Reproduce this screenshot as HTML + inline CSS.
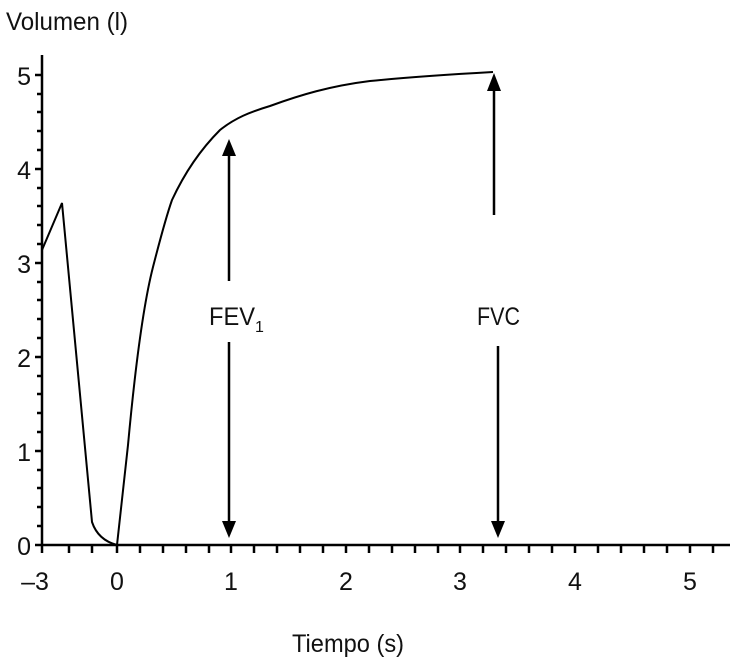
<!DOCTYPE html>
<html><head><meta charset="utf-8"><style>body{margin:0;background:#fff}svg{display:block}text{font-family:"Liberation Sans Narrow","Liberation Sans",sans-serif;font-size:25px;fill:#111}</style></head><body>
<svg width="730" height="661" viewBox="0 0 730 661">
<g stroke="#000" stroke-width="2.5" fill="none">
<line x1="42" y1="55" x2="42" y2="546"/>
<line x1="41" y1="545" x2="730" y2="545"/>
<path d="M35 545H42M35 451H42M35 357H42M35 263H42M35 169H42M35 75H42"/>
<path d="M37 526H42M37 507H42M37 488H42M37 470H42M37 432H42M37 413H42M37 394H42M37 376H42M37 338H42M37 319H42M37 300H42M37 282H42M37 244H42M37 225H42M37 206H42M37 188H42M37 150H42M37 131H42M37 112H42M37 94H42"/>
<path d="M42 545V553M69 545V553M92 545V553M117 545V553M140 545V553M163 545V553M186 545V553M209 545V553M231 545V553M254 545V553M277 545V553M300 545V553M323 545V553M346 545V553M369 545V553M392 545V553M415 545V553M438 545V553M460 545V553M483 545V553M506 545V553M529 545V553M552 545V553M575 545V553M598 545V553M621 545V553M644 545V553M667 545V553M690 545V553M713 545V553"/>
<path stroke-width="2" d="M42 250L62 203L92 522Q98 540 117 545L128 445C134 380 142 310 153 267C160 240 165 220 172 200C185 172 200 150 220 130C235 118 250 112 270 106C300 95 330 86 370 81C400 78 440 75 493 72"/>
<line x1="229" y1="152" x2="229" y2="281" stroke-width="2.5"/>
<line x1="229" y1="342" x2="229" y2="525" stroke-width="2.5"/>
<line x1="494" y1="88" x2="494" y2="215" stroke-width="2.5"/>
<line x1="498" y1="346" x2="498" y2="525" stroke-width="2.5"/>
</g>
<g fill="#000">
<polygon points="229,139 222,156 236,156"/>
<polygon points="229,538 222,521 236,521"/>
<polygon points="494,73 487,91 501,91"/>
<polygon points="498,538 491,521 505,521"/>
</g>
<text x="6" y="30" textLength="122" lengthAdjust="spacingAndGlyphs">Volumen (l)</text>
<g text-anchor="end"><text x="31" y="555">0</text><text x="31" y="461">1</text><text x="31" y="367">2</text><text x="31" y="273">3</text><text x="31" y="179">4</text><text x="31" y="85">5</text></g>
<g text-anchor="middle"><text x="35" y="590">–3</text><text x="117" y="590">0</text><text x="231" y="590">1</text><text x="346" y="590">2</text><text x="460" y="590">3</text><text x="575" y="590">4</text><text x="690" y="590">5</text></g>
<text x="292" y="652" textLength="112" lengthAdjust="spacingAndGlyphs">Tiempo (s)</text>
<text x="477" y="325" textLength="43" lengthAdjust="spacingAndGlyphs">FVC</text>
<text x="209" y="325"><tspan textLength="46" lengthAdjust="spacingAndGlyphs">FEV</tspan><tspan font-size="16" dy="7">1</tspan></text>
</svg>
</body></html>
